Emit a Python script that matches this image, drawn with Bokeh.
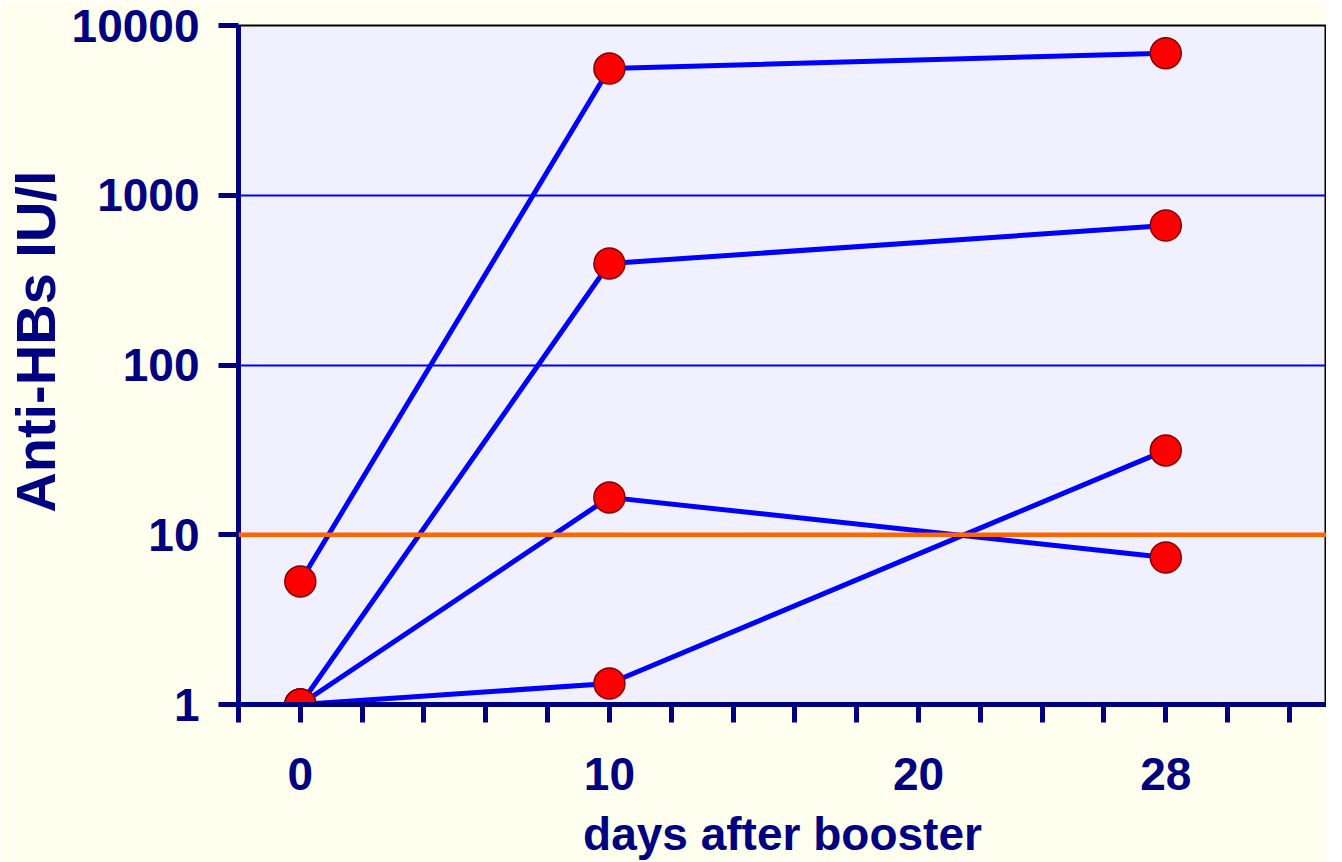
from bokeh.plotting import figure
from bokeh.models import FixedTicker, Range1d, Span
from bokeh.embed import file_html
from bokeh.resources import INLINE

# data
days = [0, 10, 28]
series_1 = [5.3, 5580, 6870]
series_2 = [1, 396, 663]
series_3 = [1, 16.6, 7.35]
series_4 = [1, 1.33, 31.4]
all_series = [series_1, series_2, series_3, series_4]
threshold = 10
x_ticks = list(range(-2, 34, 2))
x_labelled = [0, 10, 20, 28]
y_ticks = [1, 10, 100, 1000, 10000]

NAVY = "#000080"
FONT = "Liberation Sans"

p = figure(width=1326, height=862, y_axis_type="log",
           x_range=Range1d(-2.0, 33.2), y_range=Range1d(1, 10000),
           output_backend="svg", toolbar_location=None,
           min_border_left=200, min_border_right=0, min_border_top=25, min_border_bottom=158)

p.background_fill_color = "#F0F0FF"
p.border_fill_color = "#FFFFF0"
p.outline_line_color = "black"
p.outline_line_width = 2

# grid
p.xgrid.grid_line_color = None
p.ygrid.grid_line_color = "#0000FF"
p.ygrid.grid_line_width = 2
p.ygrid.ticker = FixedTicker(ticks=y_ticks)

# axes
for ax in (p.xaxis[0], p.yaxis[0]):
    ax.axis_line_color = NAVY
    ax.axis_line_width = 5
    ax.major_tick_line_color = NAVY
    ax.major_tick_line_width = 5
    ax.major_tick_in = 0
    ax.minor_tick_line_color = None
    ax.major_label_text_color = NAVY
    ax.major_label_text_font = FONT
    ax.major_label_text_font_style = "bold"
    ax.major_label_text_font_size = "46px"
    ax.axis_label_text_color = NAVY
    ax.axis_label_text_font = FONT
    ax.axis_label_text_font_style = "bold"

p.xaxis.ticker = FixedTicker(ticks=x_ticks)
p.xaxis.major_label_overrides = {t: (str(t) if t in x_labelled else "") for t in x_ticks}
p.xaxis.major_tick_out = 18
p.xaxis.major_label_standoff = 35
p.xaxis.axis_label = "days after booster"
p.xaxis.axis_label_text_font_size = "46px"
p.xaxis.axis_label_standoff = 15

p.yaxis.ticker = FixedTicker(ticks=y_ticks)
p.yaxis.major_label_overrides = {t: str(t) for t in y_ticks}
p.yaxis.major_tick_out = 20
p.yaxis.major_label_standoff = 19
p.yaxis.axis_label = "\u00a0\u00a0\u00a0Anti-HBs IU/l"
p.yaxis.axis_label_text_font_size = "56px"
p.yaxis.axis_label_standoff = 2

# threshold line
p.add_layout(Span(location=threshold, dimension="width", line_color="#FF6600", line_width=4.5))

for s in all_series:
    p.line(days, s, line_color="#0000FF", line_width=5)
for s in all_series:
    p.scatter(days, s, size=31, fill_color="#FF0000", line_color="#800000", line_width=1.5)

open("out.html", "w").write(file_html(p, INLINE))
